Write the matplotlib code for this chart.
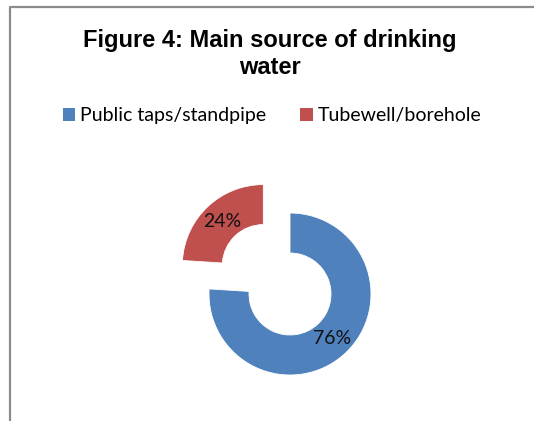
import matplotlib
matplotlib.use("Agg")
import matplotlib.pyplot as plt
from matplotlib.lines import Line2D
from matplotlib.patches import Patch

sources = ["Public taps/standpipe", "Tubewell/borehole"]
shares = [76, 24]
colors = ["#4F81BD", "#C0504D"]

fig = plt.figure(figsize=(5.34, 4.21), dpi=100)
ax = fig.add_axes([0, 0, 1, 1])

ax.pie(
    shares, colors=colors, startangle=90, counterclock=False,
    center=(290, 127), radius=81, explode=[0, 39],
    wedgeprops=dict(width=40, edgecolor="white", linewidth=0.6),
    autopct="%1.0f%%", pctdistance=0.75,
    textprops=dict(family="Lato", fontsize=14, color="#111111"),
    frame=True,
)
ax.set_xlim(0, 534)
ax.set_ylim(0, 421)
ax.set_aspect("equal")
ax.axis("off")

fig.text(270 / 534, 1 - 54 / 421, "Figure 4: Main source of drinking\nwater",
         ha="center", va="center", family="Liberation Sans", weight="bold",
         fontsize=17, linespacing=1.2)

handles = [Patch(facecolor=c, edgecolor="none") for c in colors]
fig.legend(handles, sources, loc="center", bbox_to_anchor=(272 / 534, 1 - 116 / 421),
           ncol=2, frameon=False, prop=dict(family="Lato", size=14),
           handlelength=0.65, handleheight=0.65, handletextpad=0.25, columnspacing=1.75)

# chart border (left and top edges visible)
fig.add_artist(Line2D([10 / 534, 10 / 534, 1], [0, 1 - 7 / 421, 1 - 7 / 421],
                      transform=fig.transFigure, color="#8c8c8c", linewidth=1.6))

fig.savefig("out.png", dpi=100)
